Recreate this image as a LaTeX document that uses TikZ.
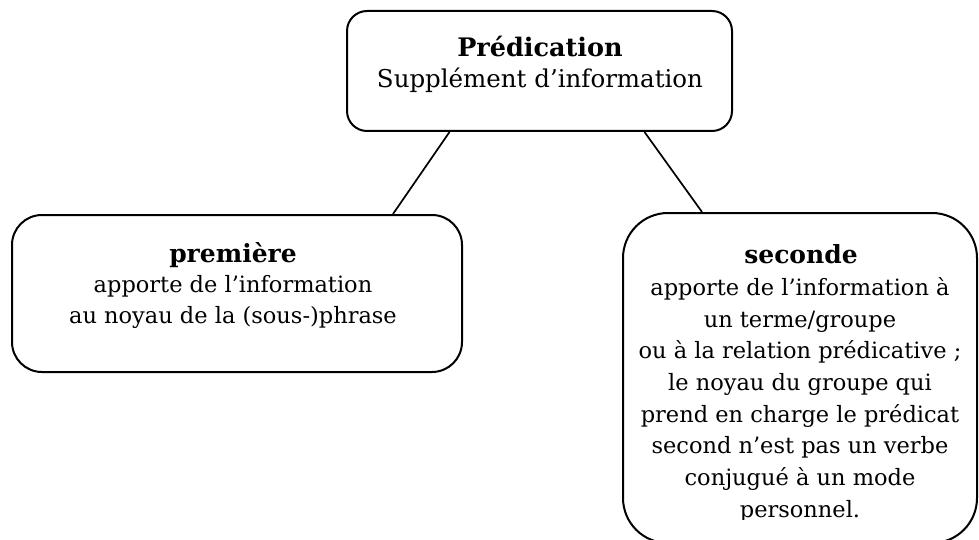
\documentclass[tikz,border=0pt]{standalone}
\usepackage{fontspec}
\setmainfont{DejaVu Serif}
\begin{document}
\begin{tikzpicture}[x=1pt,y=-1pt,
  box/.style={draw=black, line width=2pt, fill=white, rounded corners=#1, inner sep=0pt},
  box/.default=20pt,
  txt/.style={anchor=base, inner sep=0pt, font=\fontsize{22.5}{28}\selectfont},
  toptxt/.style={txt, font=\fontsize{24.5}{30}\selectfont},
  head/.style={txt, font=\fontsize{25}{30}\selectfont\bfseries},
  link/.style={line width=1.7pt}]
\useasboundingbox (0,0) rectangle (979,540);
\clip (0,0) rectangle (979,540);

% boxes
\node[box=20pt, minimum width=385pt, minimum height=120pt] (pred) at (539.5,71) {};
\node[box=30pt, minimum width=450pt, minimum height=157pt] (prem) at (237,293.5) {};
\node[box=45pt, minimum width=354pt, minimum height=330pt] (sec) at (800,378) {};

% connectors
\draw[link] ([xshift=-90pt]pred.south) -- ([xshift=156pt]prem.north);
\draw[link] ([xshift=105pt]pred.south) -- ([xshift=-98pt]sec.north);

% top box text
\node[head, font=\fontsize{25.5}{30}\selectfont\bfseries] (predh) at (540,57) {Prédication};
\node[toptxt] (predt) at (540,88) {Supplément d’information};

% left box text
\node[head] (premh) at (233,262) {première};
\node[txt] (prem1) at (233,292) {apporte de l’information};
\node[txt] (prem2) at (233,323) {au noyau de la (sous-)phrase};

% right box text, cut at the lower edge of its frame
\begin{scope}
\clip (600,200) rectangle (979,519);
\node[head] (sech) at (801,263) {seconde};
\node[txt] (sec1) at (800,295) {apporte de l’information à};
\node[txt] (sec2) at (800,327) {un terme/groupe};
\node[txt] (sec3) at (800,358) {ou à la relation prédicative ;};
\node[txt] (sec4) at (800,390) {le noyau du groupe qui};
\node[txt] (sec5) at (800,422) {prend en charge le prédicat};
\node[txt] (sec6) at (800,453) {second n’est pas un verbe};
\node[txt] (sec7) at (800,485) {conjugué à un mode};
\node[txt] (sec8) at (800,517) {personnel.};
\end{scope}
\end{tikzpicture}
\end{document}
